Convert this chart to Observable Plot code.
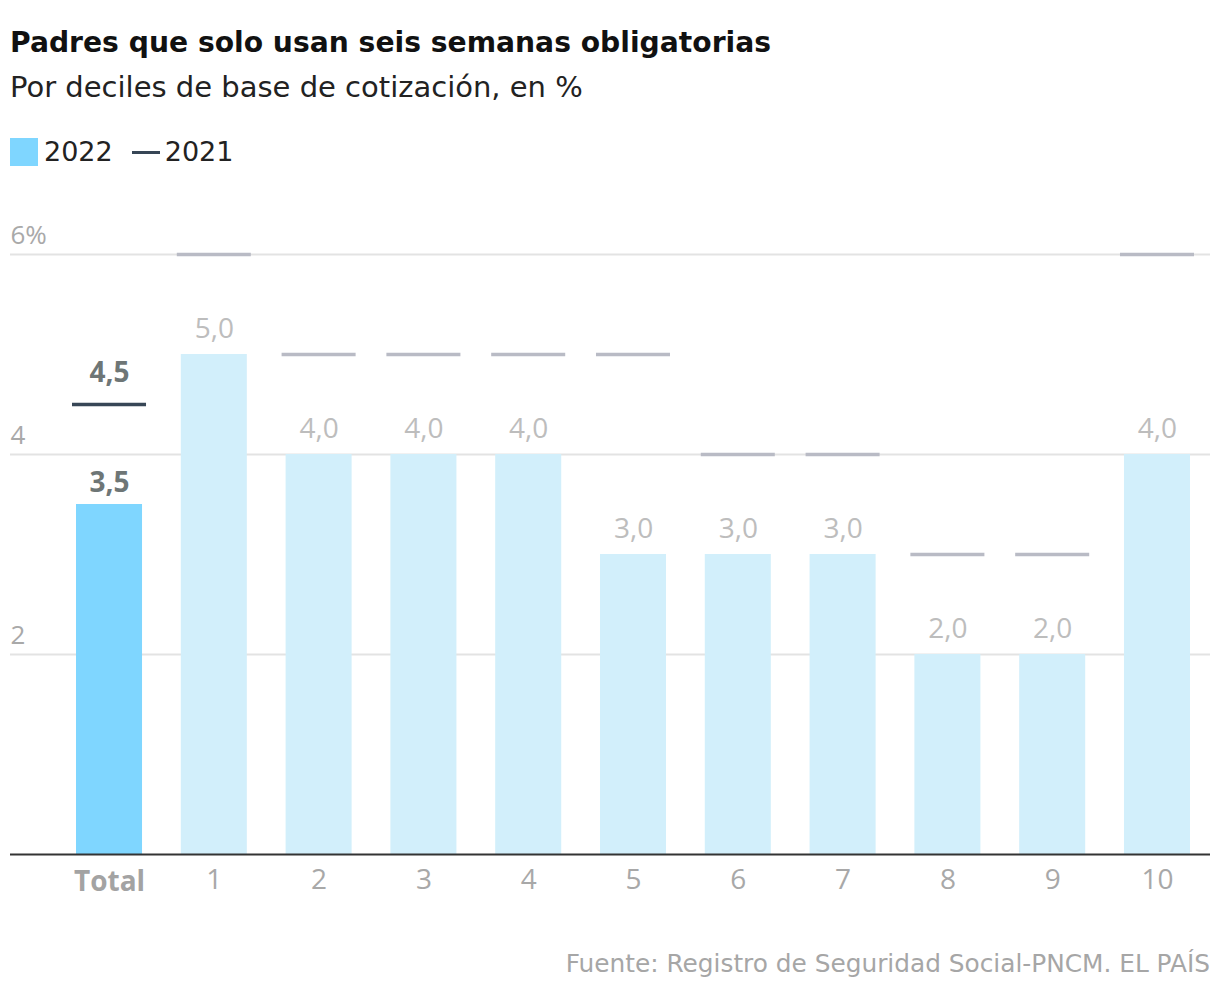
<!DOCTYPE html>
<html>
<head>
<meta charset="utf-8">
<script src="https://cdn.jsdelivr.net/npm/d3@7"></script>
<script src="https://cdn.jsdelivr.net/npm/@observablehq/plot@0.6"></script>
<style>
  html, body { margin: 0; padding: 0; background: #fff; }
  body { width: 1220px; height: 994px; position: relative; font-family: "DejaVu Sans", "Open Sans", sans-serif; overflow: hidden; }
  #title { position: absolute; left: 10px; top: 28px; font-size: 28.2px; line-height: 30px; font-weight: 700; color: #111; white-space: nowrap; }
  #subtitle { position: absolute; left: 10px; top: 72px; font-size: 29px; line-height: 30px; font-weight: 400; color: #222; white-space: nowrap; }
  #legend { position: absolute; left: 10px; top: 137px; font-size: 27px; line-height: 30px; color: #222; display: flex; align-items: center; white-space: nowrap; }
  .sw { display: inline-block; width: 28px; height: 28px; background: #7fd6ff; margin-right: 6px; }
  .ln { display: inline-block; width: 28px; height: 3px; background: #374656; margin-left: 19px; margin-right: 5px; }
  #chart { position: absolute; left: 0; top: 200px; }
  #source { position: absolute; right: 10px; top: 949px; font-size: 24.8px; line-height: 30px; color: #a6a6a6; white-space: nowrap; }
</style>
</head>
<body>
<div id="title">Padres que solo usan seis semanas obligatorias</div>
<div id="subtitle">Por deciles de base de cotización, en %</div>
<div id="legend"><span class="sw"></span><span>2022</span><span class="ln"></span><span>2021</span></div>
<div id="chart"></div>
<div id="source">Fuente: Registro de Seguridad Social-PNCM. EL PAÍS</div>
<script>
const categories = ["Total", "1", "2", "3", "4", "5", "6", "7", "8", "9", "10"];
const values2022 = [3.5, 5.0, 4.0, 4.0, 4.0, 3.0, 3.0, 3.0, 2.0, 2.0, 4.0];
const values2021 = [4.5, 6.0, 5.0, 5.0, 5.0, 5.0, 4.0, 4.0, 3.0, 3.0, 6.0];
const yTicks = [2, 4, 6];

const data = categories.map((c, i) => ({cat: c, v2022: values2022[i], v2021: values2021[i]}));
const total = data.filter(d => d.cat === "Total");
const deciles = data.filter(d => d.cat !== "Total");
const fmt = v => v.toFixed(1).replace(".", ",");
const font = "'Open Sans', Roboto, sans-serif";

const chart = Plot.plot({
  width: 1220,
  height: 720,
  marginTop: 54,
  marginBottom: 66,
  marginLeft: 10,
  marginRight: 10,
  style: {fontFamily: font, background: "transparent", overflow: "visible"},
  x: {type: "band", domain: categories, range: [76, 1190], paddingInner: 0.37, paddingOuter: 0, round: false, label: null},
  y: {domain: [0, 6], label: null},
  marks: [
    Plot.gridY(yTicks, {stroke: "#e3e3e3", strokeOpacity: 1, strokeWidth: 2}),
    Plot.axisY(yTicks, {anchor: "left", tickSize: 0, tickPadding: 0, textAnchor: "start", dy: -19, fontSize: 26, fill: "#a9a9a9", tickFormat: d => d === 6 ? "6%" : String(d), label: null}),
    Plot.barY(deciles, {x: "cat", y: "v2022", fill: "#d2effb"}),
    Plot.barY(total, {x: "cat", y: "v2022", fill: "#7fd6ff"}),
    Plot.tickY(deciles, {x: "cat", y: "v2021", stroke: "#b9bbc5", strokeWidth: 3.5, insetLeft: -4, insetRight: -4}),
    Plot.tickY(total, {x: "cat", y: "v2021", stroke: "#374656", strokeWidth: 3.5, insetLeft: -4, insetRight: -4}),
    Plot.text(deciles, {x: "cat", y: "v2022", text: d => fmt(d.v2022), dy: -25, fontSize: 28, fill: "#bdbdbd"}),
    Plot.text(total, {x: "cat", y: "v2022", text: d => fmt(d.v2022), dy: -21, fontSize: 28, fontWeight: 700, fill: "#6e7676"}),
    Plot.text(total, {x: "cat", y: "v2021", text: d => fmt(d.v2021), dy: -31, fontSize: 28, fontWeight: 700, fill: "#6e7676"}),
    Plot.ruleY([0], {stroke: "#333", strokeWidth: 2}),
    Plot.axisX(["Total"], {anchor: "bottom", tickSize: 0, tickPadding: 17, fontSize: 28, fontWeight: 700, fill: "#a3a3a3", label: null}),
    Plot.axisX(categories.slice(1), {anchor: "bottom", tickSize: 0, tickPadding: 15, fontSize: 28, fill: "#a8a8a8", label: null})
  ]
});
document.getElementById("chart").appendChild(chart);
</script>
</body>
</html>
